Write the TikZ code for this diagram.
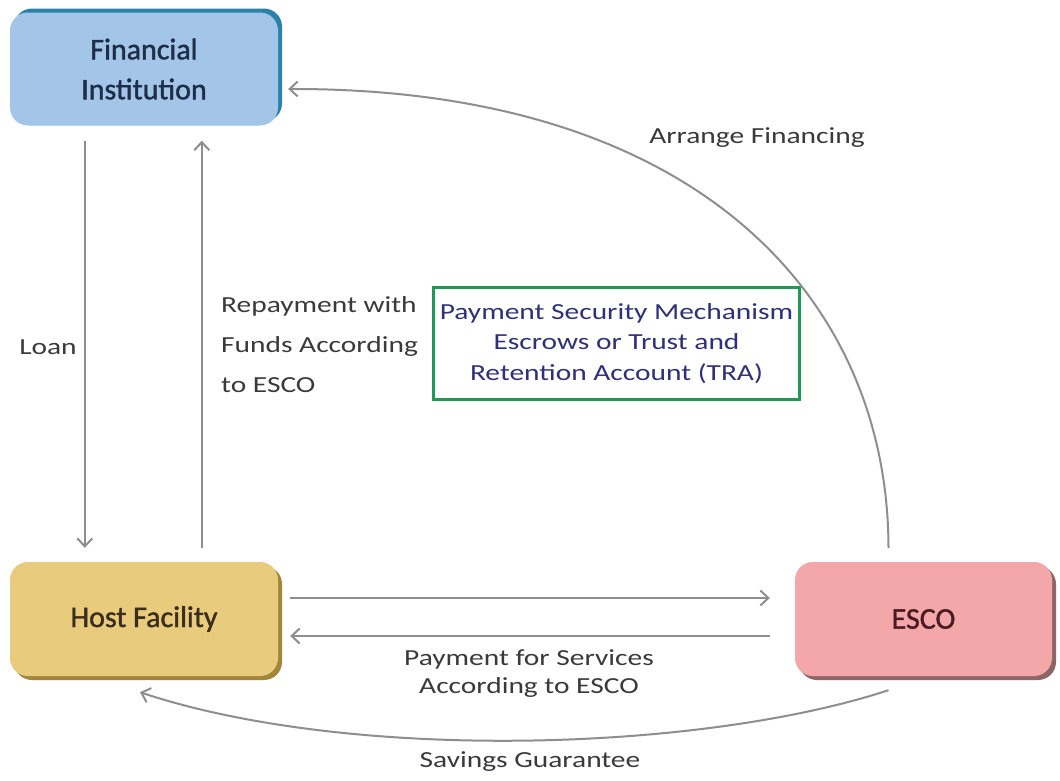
\documentclass[tikz,border=0pt]{standalone}
\usepackage{fontspec}
\setmainfont{Carlito}
\newfontfamily\labfont[FakeStretch=1.28]{Carlito}
\newfontfamily\partyfont[FakeBold=1.3]{Carlito}
\usetikzlibrary{arrows.meta}

\definecolor{fiblue}{HTML}{A2C5E8}
\definecolor{fidark}{HTML}{2B82A8}
\definecolor{fitext}{HTML}{1E2E48}
\definecolor{hostfill}{HTML}{E9CB7E}
\definecolor{hostdark}{HTML}{A3863A}
\definecolor{hosttext}{HTML}{3A2E1C}
\definecolor{escofill}{HTML}{F4A7A9}
\definecolor{escodark}{HTML}{8E6666}
\definecolor{escotext}{HTML}{4A1C22}
\definecolor{linegray}{HTML}{8E8E8E}
\definecolor{labgray}{HTML}{3A3A3A}
\definecolor{psmgreen}{HTML}{1F9A55}
\definecolor{psmtext}{HTML}{303078}

\tikzset{
  party/.style={rounded corners=18pt, align=center, inner sep=0pt,
    font=\partyfont\fontsize{30}{40}\selectfont},
  flow/.style={draw=linegray, line width=2pt,
    -{Straight Barb[length=8pt, width=15pt, line width=2pt]}},
  lab/.style={text=labgray, inner sep=0pt, font=\labfont\fontsize{23}{28}\selectfont}
}

\begin{document}
\begin{tikzpicture}[x=1pt, y=-1pt]
\useasboundingbox (0,0) rectangle (1060,780);
\fill[white] (0,0) rectangle (1060,780);

% parties
\node[party, fill=fiblue, text=fitext, minimum width=268pt, minimum height=113pt,
  preaction={fill=fidark, transform canvas={shift={(4pt,4pt)}}}]
  (fi) at (144,69) {Financial\\Institution};
\node[party, fill=hostfill, text=hosttext, minimum width=268pt, minimum height=114pt,
  preaction={fill=hostdark, transform canvas={shift={(4pt,-4pt)}}}]
  (host) at (144,619) {Host Facility};
\node[party, fill=escofill, text=escotext, minimum width=257pt, minimum height=114pt,
  preaction={fill=escodark, transform canvas={shift={(4pt,-4pt)}}}]
  (esco) at (923.5,619) {ESCO};

% payment security mechanism box
\node[draw=psmgreen, line width=2.5pt, minimum width=366pt, minimum height=112pt,
  align=center, inner sep=0pt, text=psmtext,
  font=\labfont\fontsize{23}{30.5}\selectfont]
  (psm) at (616.5,343.5) {Payment Security Mechanism\\Escrows or Trust and\\Retention Account (TRA)};

% flows between the parties
\draw[flow] ([shift={(75pt,-15pt)}]fi.south west) -- ([shift={(75pt,14pt)}]host.north west);
\draw[flow] ([shift={(192pt,14pt)}]host.north west) -- ([shift={(192pt,-15pt)}]fi.south west);
\draw[flow] ([shift={(12pt,21pt)}]host.east) -- ([shift={(-25pt,21pt)}]esco.west);
\draw[flow] ([shift={(-25pt,-17pt)}]esco.west) -- ([shift={(12pt,-17pt)}]host.east);
\draw[flow] ([shift={(-35pt,14pt)}]esco.north)
  .. controls (888,300) and (700,88) .. ([shift={(10pt,-20pt)}]fi.east);
\draw[flow] ([shift={(-35pt,-14pt)}]esco.south)
  .. controls (700,752) and (350,762) .. ([shift={(-4pt,-16pt)}]host.south);

% labels
\node[lab] (loan) at (48,347) {Loan};
\node[lab, anchor=west, align=left, font=\labfont\fontsize{23}{40}\selectfont]
  (repay) at (221,345) {Repayment with\\Funds According\\to ESCO};
\node[lab] (arrange) at (757,138) {Arrange Financing};
\node[lab, align=center] (payserv) at (529,674) {Payment for Services\\According to ESCO};
\node[lab] (savings) at (530,762) {Savings Guarantee};
\end{tikzpicture}
\end{document}
